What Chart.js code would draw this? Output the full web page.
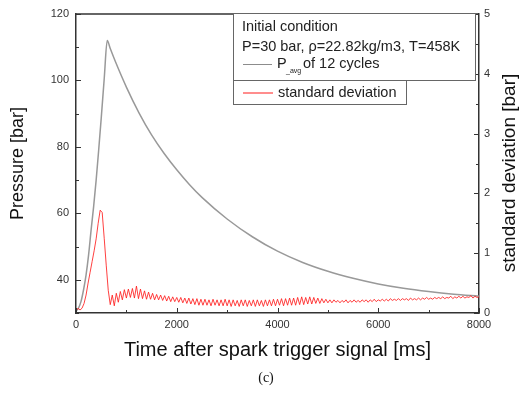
<!DOCTYPE html>
<html>
<head>
<meta charset="utf-8">
<script src="https://cdn.jsdelivr.net/npm/chart.js@4.4.0/dist/chart.umd.min.js"></script>
<style>
  body { margin: 0; background: #fff; }
</style>
</head>
<body>
<canvas id="chart" width="520" height="395"></canvas>
<script>
// averaged pressure of 12 cycles [bar] vs time [ms]
var pressureTime = [0, 50, 100, 150, 200, 250, 300, 350, 400, 450, 500, 560, 620, 680, 800, 1000, 1250,
    1500, 1750, 2000, 2250, 2500, 3000, 3500, 4000, 4500, 5000, 5500, 6000, 6500, 7000, 7500, 8000];
var pressureAvg = [30.5, 31.5, 33.5, 37, 41.5, 47.5, 55, 62, 70, 79, 88.5, 100.5, 112, 109.6, 105, 98, 90.25,
    83.6, 78, 73.1, 68.7, 64.8, 58.3, 52.95, 48.6, 45.2, 42.55, 40.45, 38.75, 37.45, 36.45, 35.65, 35.05];

// standard deviation [bar], one value every stdStep ms from 0 to 8000
var stdStep = 40;
var stdDev = [
    0.03, 0.08, 0.05, 0.08, 0.16, 0.30, 0.50, 0.68, 0.86, 1.04, 1.24, 1.50, 1.72, 1.68, 1.25, 0.80, 0.38, 0.14,
    0.30, 0.12, 0.33, 0.18, 0.36, 0.22, 0.39, 0.25, 0.40, 0.26, 0.41, 0.25, 0.45, 0.24, 0.40, 0.24, 0.37, 0.23,
    0.35, 0.23, 0.33, 0.22, 0.31, 0.22, 0.30, 0.21, 0.29, 0.20, 0.28, 0.19, 0.27, 0.19, 0.26, 0.18, 0.26, 0.17,
    0.25, 0.16, 0.25, 0.15, 0.24, 0.14, 0.24, 0.13, 0.23,
    0.13, 0.23, 0.13, 0.22, 0.12, 0.23, 0.13, 0.22, 0.12, 0.22, 0.12, 0.23, 0.12, 0.22, 0.11, 0.22, 0.12, 0.21,
    0.11, 0.22, 0.12, 0.22, 0.11, 0.21, 0.12, 0.22, 0.11, 0.22, 0.12, 0.21, 0.11, 0.22, 0.12, 0.22, 0.12, 0.23,
    0.12, 0.23, 0.13, 0.24, 0.12, 0.24, 0.13, 0.25, 0.13, 0.25, 0.13,
    0.26, 0.14, 0.27, 0.14, 0.26, 0.15, 0.27, 0.15, 0.26, 0.16, 0.25, 0.16, 0.24, 0.17, 0.23, 0.17, 0.22, 0.17,
    0.22, 0.18, 0.21,
    0.17, 0.21, 0.18, 0.22, 0.17, 0.21, 0.18, 0.22, 0.18, 0.21,
    0.18, 0.22, 0.19, 0.22, 0.18, 0.22, 0.19, 0.23, 0.19, 0.22,
    0.20, 0.23, 0.20, 0.23, 0.20, 0.24, 0.21, 0.23, 0.21, 0.24,
    0.21, 0.24, 0.22, 0.24, 0.21, 0.25, 0.22, 0.24, 0.22, 0.25,
    0.22, 0.25, 0.23, 0.26, 0.23, 0.25, 0.23, 0.26, 0.24, 0.26,
    0.24, 0.27, 0.24, 0.26, 0.25, 0.28, 0.24, 0.27, 0.25, 0.28,
    0.25, 0.28, 0.25, 0.27, 0.26, 0.29, 0.25, 0.28, 0.26, 0.27
];

var timeTicks = [0, 2000, 4000, 6000, 8000];
var pressureTicks = [40, 60, 80, 100, 120];
var stdTicks = [0, 1, 2, 3, 4, 5];

var FONT = '"Liberation Sans", Arial, sans-serif';
var AXIS = '#333';

function fixTicks(list) {
    return function(scale) {
        scale.ticks = list.map(function(v) { return {value: v}; });
    };
}

function plain(v) { return String(v); }

// inward tick marks, top frame line, legend boxes, right title, caption
var decorations = {
    id: 'decorations',
    afterDraw: function(chart) {
        var ctx = chart.ctx, a = chart.chartArea, s = chart.scales;
        ctx.save();
        ctx.strokeStyle = AXIS;
        ctx.lineWidth = 1.5;
        ctx.beginPath();
        ctx.moveTo(a.left, a.top);
        ctx.lineTo(a.right, a.top);
        ctx.stroke();

        ctx.lineWidth = 1;
        ctx.beginPath();
        for (var t = s.x.min; t <= s.x.max; t += 1000) {
            var px = Math.round(s.x.getPixelForValue(t)) + 0.5;
            var len = t % 2000 === 0 ? 5 : 3;
            ctx.moveTo(px, a.bottom);
            ctx.lineTo(px, a.bottom - len);
        }
        for (var p = s.y.min; p <= s.y.max; p += 10) {
            var py = Math.round(s.y.getPixelForValue(p)) + 0.5;
            var l2 = p % 20 === 0 ? 5 : 3;
            ctx.moveTo(a.left, py);
            ctx.lineTo(a.left + l2, py);
        }
        for (var d = s.y1.min; d <= s.y1.max; d += 0.5) {
            var qy = Math.round(s.y1.getPixelForValue(d)) + 0.5;
            var l3 = d % 1 === 0 ? 5 : 3;
            ctx.moveTo(a.right, qy);
            ctx.lineTo(a.right - l3, qy);
        }
        ctx.stroke();

        // legend
        ctx.fillStyle = '#fff';
        ctx.fillRect(233.5, 13.5, 242, 67);
        ctx.fillRect(233.5, 80.5, 173, 24);
        ctx.strokeStyle = '#666';
        ctx.strokeRect(233.5, 13.5, 242, 67);
        ctx.strokeRect(233.5, 80.5, 173, 24);

        ctx.fillStyle = '#222';
        ctx.textBaseline = 'middle';
        ctx.textAlign = 'left';
        ctx.font = '14.5px ' + FONT;
        ctx.fillText('Initial condition', 242, 27);
        ctx.fillText('P=30 bar, \u03C1=22.82kg/m3, T=458K', 242, 46.5);
        ctx.fillText('P', 277, 64);
        ctx.fillText('of 12 cycles', 303, 64);
        ctx.fillText('standard deviation', 278, 92.5);
        ctx.font = '7px ' + FONT;
        ctx.fillText('_avg', 286, 71);

        ctx.lineWidth = 1;
        ctx.strokeStyle = '#8c8c8c';
        ctx.beginPath();
        ctx.moveTo(243, 64.5);
        ctx.lineTo(272, 64.5);
        ctx.stroke();
        ctx.strokeStyle = '#ff5050';
        ctx.lineWidth = 1.3;
        ctx.beginPath();
        ctx.moveTo(243, 93);
        ctx.lineTo(273, 93);
        ctx.stroke();

        // right axis title reads bottom to top
        ctx.fillStyle = '#111';
        ctx.font = '19px ' + FONT;
        ctx.textAlign = 'center';
        ctx.translate(510, 173);
        ctx.rotate(-Math.PI / 2);
        ctx.fillText('standard deviation [bar]', 0, 0);
        ctx.setTransform(1, 0, 0, 1, 0, 0);

        ctx.font = '14px "Liberation Serif", "Times New Roman", serif';
        ctx.fillText('(c)', 266, 378);
        ctx.restore();
    }
};

var chart = new Chart(document.getElementById('chart'), {
    type: 'line',
    data: {
        datasets: [
            {
                label: 'standard deviation',
                data: stdDev.map(function(v, i) { return {x: i * stdStep, y: v}; }),
                yAxisID: 'y1',
                borderColor: 'rgba(255,30,30,0.85)',
                borderWidth: 1,
                pointRadius: 0,
                tension: 0,
                order: 0
            },
            {
                label: 'P_avg of 12 cycles',
                data: pressureTime.map(function(t, i) { return {x: t, y: pressureAvg[i]}; }),
                yAxisID: 'y',
                borderColor: '#999',
                borderWidth: 1.5,
                pointRadius: 0,
                cubicInterpolationMode: 'monotone',
                order: 1
            }
        ]
    },
    options: {
        responsive: false,
        animation: false,
        layout: {padding: {top: 14, left: 0, right: 0, bottom: 0}},
        plugins: {legend: {display: false}, tooltip: {enabled: false}},
        scales: {
            x: {
                type: 'linear',
                min: 0,
                max: 8000,
                afterBuildTicks: fixTicks(timeTicks),
                afterFit: function(s) { s.height = 82; },
                grid: {display: false, drawTicks: false},
                border: {display: true, color: AXIS, width: 1.5},
                ticks: {padding: 5, color: '#333', font: {family: FONT, size: 11}, callback: plain},
                title: {display: true, text: 'Time after spark trigger signal [ms]', color: '#111',
                    font: {family: FONT, size: 20}, padding: {top: 0, bottom: 33}}
            },
            y: {
                position: 'left',
                min: 30,
                max: 120,
                afterBuildTicks: fixTicks(pressureTicks),
                afterFit: function(s) { s.width = 76; },
                grid: {display: false, drawTicks: false},
                border: {display: true, color: AXIS, width: 1.5},
                ticks: {padding: 7, color: '#333', font: {family: FONT, size: 11}, callback: plain},
                title: {display: true, text: 'Pressure [bar]', color: '#111',
                    font: {family: FONT, size: 18}, padding: {top: 7, bottom: 0}}
            },
            y1: {
                position: 'right',
                min: 0,
                max: 5,
                afterBuildTicks: fixTicks(stdTicks),
                afterFit: function(s) { s.width = 41; },
                grid: {display: false, drawTicks: false},
                border: {display: true, color: AXIS, width: 1.5},
                ticks: {padding: 5, color: '#333', font: {family: FONT, size: 11}, callback: plain}
            }
        }
    },
    plugins: [decorations]
});
</script>
</body>
</html>
